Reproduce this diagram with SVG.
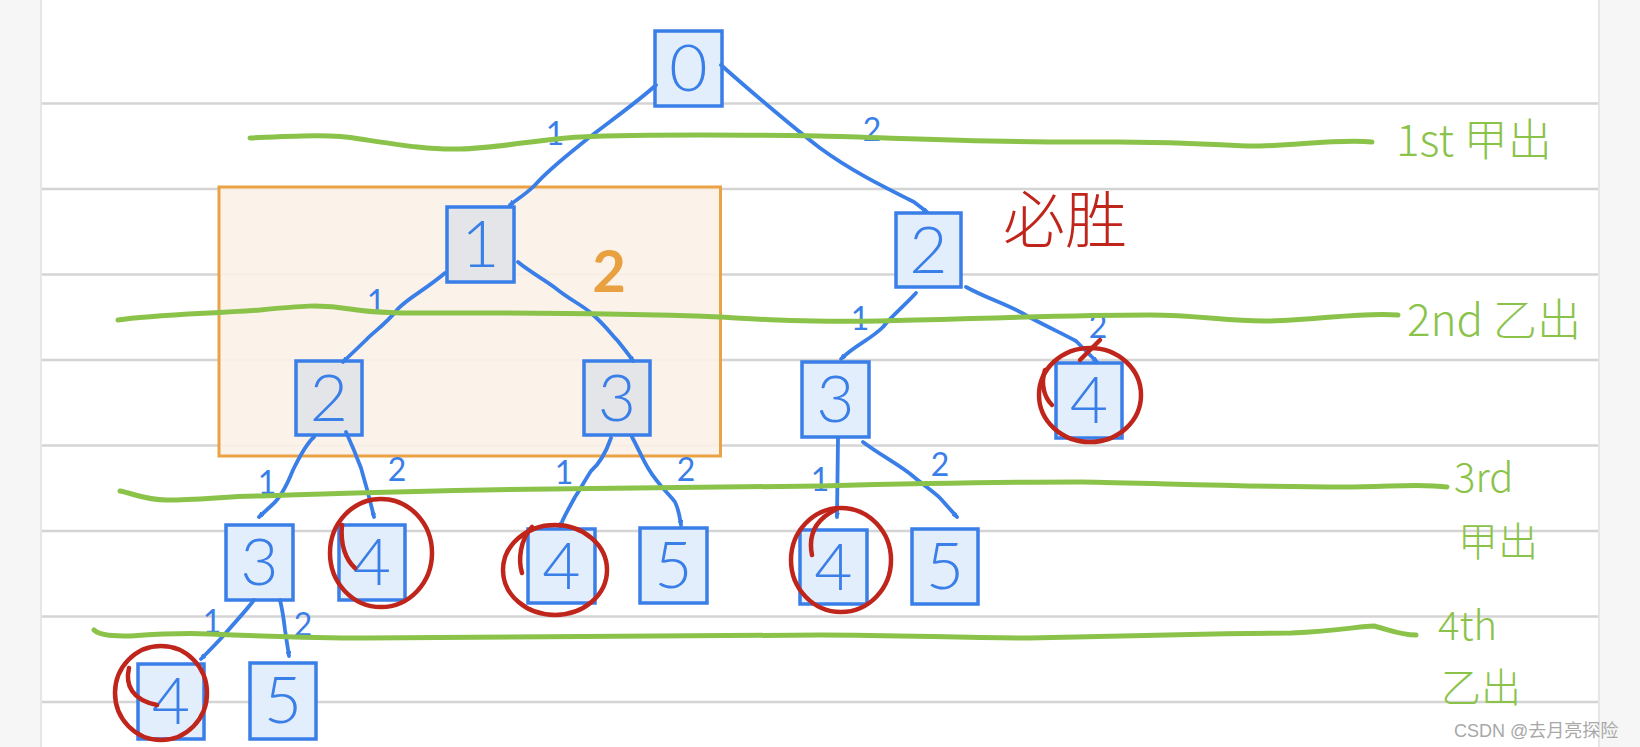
<svg xmlns="http://www.w3.org/2000/svg" width="1640" height="747" viewBox="0 0 1640 747">
<defs>
<style>
.rule{stroke:#d4d4d4;stroke-width:2.5;fill:none}
.box{fill:#e3eefc;stroke:#3a7ee8;stroke-width:3.5}
.gbox{fill:#e3e5e8;stroke:#3a7ee8;stroke-width:3.5}
.dig{font-family:Lato,Inter,"Liberation Sans",sans-serif;font-weight:300;font-size:66px;fill:#3a7ee8;text-anchor:middle}
.lbl{font-family:Lato,Inter,"Liberation Sans",sans-serif;font-weight:400;font-size:32px;fill:#3a7ee8;text-anchor:middle}
.edge{fill:none;stroke:#3a7ee8;stroke-width:3.8;stroke-linecap:round;stroke-linejoin:round}
.green{fill:none;stroke:#8bc34a;stroke-width:5;stroke-linecap:round;stroke-linejoin:round}
.gtxt{font-family:"Noto Sans CJK SC",Lato,"Liberation Sans",sans-serif;font-weight:300;font-size:44px;fill:#8bc34a}
.gsm{font-family:"Noto Sans CJK SC",Lato,"Liberation Sans",sans-serif;font-weight:300;font-size:40px;fill:#8bc34a}
.red{fill:none;stroke:#c0251c;stroke-width:4.5;stroke-linecap:round}
</style>
<marker id="arr" viewBox="0 0 10 10" refX="9" refY="5" markerWidth="5" markerHeight="5" orient="auto" markerUnits="userSpaceOnUse">
<path d="M0,0 L9,5 L0,10" fill="none" stroke="#3a7ee8" stroke-width="2.5" stroke-linecap="round"/>
</marker>
</defs>
<rect x="0" y="0" width="1640" height="747" fill="#f6f6f6"/>
<rect x="40" y="0" width="1560" height="747" fill="#e6e6e6"/>
<rect x="42" y="0" width="1556" height="747" fill="#ffffff"/>
<g id="rules">
<line class="rule" x1="42" y1="103.5" x2="1598" y2="103.5"/>
<line class="rule" x1="42" y1="189" x2="1598" y2="189"/>
<line class="rule" x1="42" y1="274.5" x2="1598" y2="274.5"/>
<line class="rule" x1="42" y1="360" x2="1598" y2="360"/>
<line class="rule" x1="42" y1="445.5" x2="1598" y2="445.5"/>
<line class="rule" x1="42" y1="531" x2="1598" y2="531"/>
<line class="rule" x1="42" y1="616.5" x2="1598" y2="616.5"/>
<line class="rule" x1="42" y1="702" x2="1598" y2="702"/>
</g>
<g id="highlight">
<rect x="219" y="187" width="501.5" height="269" fill="#fbf1e8" fill-opacity="0.9" stroke="#eaa244" stroke-width="3"/>
</g>
<g id="nodes">
<g id="n0"><rect class="box" x="655" y="31" width="67" height="75"/><text class="dig" x="688.5" y="91">0</text></g>
<g id="n1"><rect class="gbox" x="447" y="207" width="67" height="75"/><text class="dig" x="480.5" y="267">1</text></g>
<g id="n2r"><rect class="box" x="896" y="213" width="65" height="74"/><text class="dig" x="928.5" y="273">2</text></g>
<g id="n2b"><rect class="gbox" x="296" y="361" width="66" height="74"/><text class="dig" x="329" y="421">2</text></g>
<g id="n3b"><rect class="gbox" x="584" y="361" width="66" height="74"/><text class="dig" x="617" y="421">3</text></g>
<g id="n3r"><rect class="box" x="802" y="362" width="67" height="75"/><text class="dig" x="835.5" y="422">3</text></g>
<g id="n4r"><rect class="box" x="1056" y="363" width="66" height="75"/><text class="dig" x="1089" y="423">4</text></g>
<g id="n3c"><rect class="box" x="226" y="525" width="67" height="75"/><text class="dig" x="259.5" y="585">3</text></g>
<g id="n4a"><rect class="box" x="339" y="525" width="66" height="75"/><text class="dig" x="372" y="585">4</text></g>
<g id="n4b"><rect class="box" x="528" y="529" width="67" height="74"/><text class="dig" x="561.5" y="589">4</text></g>
<g id="n5b"><rect class="box" x="640" y="528" width="67" height="75"/><text class="dig" x="673.5" y="588">5</text></g>
<g id="n4c"><rect class="box" x="800" y="530" width="67" height="74"/><text class="dig" x="833.5" y="590">4</text></g>
<g id="n5c"><rect class="box" x="912" y="529" width="66" height="75"/><text class="dig" x="945" y="589">5</text></g>
<g id="n4d"><rect class="box" x="138" y="664" width="66" height="75"/><text class="dig" x="171" y="724">4</text></g>
<g id="n5d"><rect class="box" x="250" y="663" width="66" height="76"/><text class="dig" x="283" y="723">5</text></g>
</g>
<g id="connectors">
<path class="edge" marker-end="url(#arr)" d="M656,85 C640,100 605,125 586,140 C565,157 548,170 535,185 C525,195 516,200 510,205"/>
<path class="edge" marker-end="url(#arr)" d="M721,65 C740,82 790,125 820,148 C850,170 880,185 914,202 L927,212"/>
<path class="edge" marker-end="url(#arr)" d="M445,273 C425,290 405,300 397,310 C385,325 372,333 366,340 L343,362"/>
<path class="edge" marker-end="url(#arr)" d="M518,262 C530,272 545,280 554,287 C570,300 582,305 591,313 C605,325 612,335 617,340 C625,350 630,356 633,361"/>
<path class="edge" marker-end="url(#arr)" d="M916,293 C905,305 890,318 883,327 C870,340 855,345 841,359"/>
<path class="edge" marker-end="url(#arr)" d="M966,287 C990,300 1010,305 1029,317 C1050,328 1065,335 1076,341 L1097,362"/>
<path class="edge" marker-end="url(#arr)" d="M314,437 C305,445 298,460 293,470 C285,490 278,500 272,505 L259,517"/>
<path class="edge" marker-end="url(#arr)" d="M346,432 C352,445 358,460 361,468 C366,485 370,500 374,517"/>
<path class="edge" marker-end="url(#arr)" d="M611,438 C605,455 598,465 591,471 C585,480 580,490 575,497 C568,510 563,518 560,527"/>
<path class="edge" marker-end="url(#arr)" d="M632,437 C638,448 643,460 648,468 C658,485 670,495 675,502 C679,510 680,518 681,525"/>
<path class="edge" marker-end="url(#arr)" d="M838,438 L837,517"/>
<path class="edge" marker-end="url(#arr)" d="M863,442 C880,455 900,465 914,477 C925,486 935,493 940,498 L957,517"/>
<path class="edge" marker-end="url(#arr)" d="M254,600 C245,612 235,622 225,634 C215,645 208,652 201,659"/>
<path class="edge" marker-end="url(#arr)" d="M280,600 C283,612 284,622 285,630 L289,656"/>
</g>
<g id="edge-labels">
<text class="lbl" x="555" y="145">1</text>
<text class="lbl" x="872" y="141">2</text>
<text class="lbl" x="376" y="313">1</text>
<text class="lbl" x="860" y="330">1</text>
<text class="lbl" x="1098" y="338">2</text>
<text class="lbl" x="267" y="494">1</text>
<text class="lbl" x="397" y="481">2</text>
<text class="lbl" x="564" y="484">1</text>
<text class="lbl" x="686" y="481">2</text>
<text class="lbl" x="820" y="491">1</text>
<text class="lbl" x="940" y="476">2</text>
<text class="lbl" x="212" y="633">1</text>
<text class="lbl" x="303" y="636">2</text>
<text x="609" y="292" font-family="Lato,'Liberation Sans',sans-serif" font-weight="700" font-size="58" fill="#e8a040" text-anchor="middle">2</text>
</g>
<g id="turn-lines">
<path class="green" d="M250,138 C300,136 330,134 360,139 C400,145 430,150 460,149 C500,148 540,139 580,137 C650,134 750,135 820,136 C900,138 1000,143 1100,142 C1200,141 1230,147 1260,146 C1300,145 1340,139 1372,142"/>
<path class="green" d="M118,320 C150,315 200,314 260,310 C300,306 320,304 350,309 C380,314 420,313 480,313 C560,313 640,314 720,317 C770,320 800,322 880,321 C950,320 1050,315 1150,315 C1200,315 1230,322 1270,321 C1320,320 1360,312 1398,315"/>
<path class="green" d="M120,491 C135,494 145,500 167,500 C200,500 230,496 261,496 C350,493 450,490 550,489 C650,488 750,487 820,486 C900,484 1000,482 1081,482 C1150,483 1250,487 1343,487 C1390,487 1420,483 1447,487"/>
<path class="green" d="M94,630 C100,636 115,636 131,636 C160,634 190,633 209,634 C260,636 320,638 366,638 C500,637 650,636 820,635 C900,635 960,638 1029,638 C1100,636 1200,634 1291,633 C1340,631 1360,626 1374,626 C1390,630 1400,635 1416,635"/>
</g>
<g id="turn-labels">
<text class="gtxt" x="1396" y="156">1st 甲出</text>
<text class="gtxt" x="1407" y="336">2nd 乙出</text>
<text class="gsm" x="1454" y="492">3rd</text>
<text class="gsm" x="1458" y="556">甲出</text>
<text class="gsm" x="1438" y="640">4th</text>
<text class="gsm" x="1441" y="702">乙出</text>
</g>
<g id="marks">
<ellipse class="red" cx="1090" cy="395" rx="51" ry="47"/>
<path class="red" d="M1100,340 L1080,360 M1045,370 C1040,385 1045,398 1052,405"/>
<ellipse class="red" cx="381" cy="553" rx="51" ry="54"/>
<path class="red" d="M342,525 C340,545 346,560 355,568"/>
<ellipse class="red" cx="555" cy="570" rx="52" ry="45"/>
<path class="red" d="M532,527 C520,540 518,560 522,573"/>
<ellipse class="red" cx="841" cy="560" rx="50" ry="52"/>
<path class="red" d="M835,510 C815,520 808,535 812,555"/>
<ellipse class="red" cx="161" cy="693" rx="46" ry="47"/>
<path class="red" d="M129,668 C125,685 132,700 157,705"/>
<text x="1003" y="243" font-family="'Noto Sans CJK SC',sans-serif" font-weight="300" font-size="62" fill="#c0251c">必胜</text>
</g>
<text x="1454" y="737" font-family="'Liberation Sans','Noto Sans CJK SC',sans-serif" font-size="18" fill="#a8a8a8">CSDN @去月亮探险</text>
</svg>
